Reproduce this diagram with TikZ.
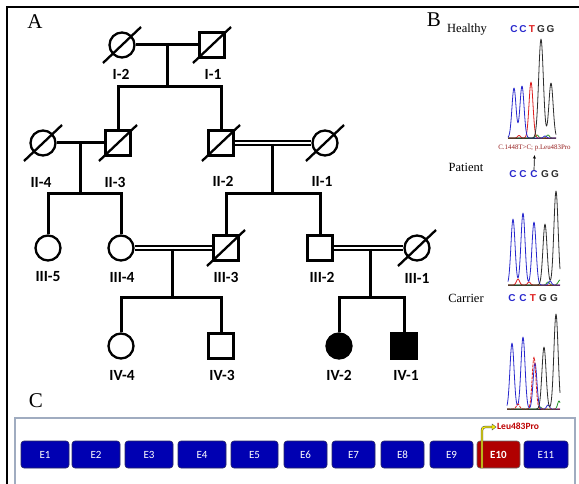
\documentclass[tikz,border=0pt]{standalone}
\usepackage{fontspec}
\setmainfont{Liberation Serif}
\newfontfamily\pedfont{Carlito}
\newfontfamily\seqfont{Liberation Sans}
\usetikzlibrary{arrows.meta}

\definecolor{exonblue}{RGB}{0,0,178}
\definecolor{exonred}{RGB}{176,0,0}
\definecolor{exonedge}{RGB}{40,40,100}
\definecolor{boxedge}{RGB}{160,172,192}
\definecolor{chC}{RGB}{40,40,205}
\definecolor{chT}{RGB}{222,30,30}
\definecolor{chG}{RGB}{45,45,45}
\definecolor{chA}{RGB}{40,150,40}
\definecolor{mutred}{RGB}{150,30,30}
\definecolor{leured}{RGB}{190,0,0}
\definecolor{ptryellow}{RGB}{250,240,0}

\tikzset{
  declare function={pk(\x,\c,\w)=exp(-min(((\x-\c)/\w)^2,20));},
  female/.style={circle, draw, line width=2.3pt, minimum size=25pt, inner sep=0pt},
  male/.style={rectangle, draw, line width=2.3pt, minimum size=25pt, inner sep=0pt},
  affected/.style={fill=black},
  ped/.style={line width=3pt},
  slash/.style={line width=2.3pt},
  consang/.style={double, double distance=2.4pt, line width=1.8pt},
  tag/.style={font=\pedfont\bfseries\fontsize{15.5}{15.5}\selectfont, inner sep=0pt},
  panel/.style={font=\fontsize{21}{21}\selectfont, inner sep=0pt},
  sample/.style={font=\fontsize{12.5}{12.5}\selectfont, inner sep=0pt},
  base/.style={font=\seqfont\bfseries\fontsize{10}{10}\selectfont, inner sep=0pt},
  trace/.style={line width=0.8pt, line join=round},
  exon/.style={draw=exonedge, fill=exonblue, rounded corners=3pt, line width=0.6pt,
    minimum height=27pt, inner sep=0pt, text height=7.2pt, text depth=0pt,
    text=white, font=\pedfont\fontsize{11}{11}\selectfont},
}

% slash through a deceased individual
\newcommand{\deceased}[1]{\draw[slash] (#1) ++(-19,18) -- ++(38,-36);}

\begin{document}
\begin{tikzpicture}[x=1pt,y=-1pt]
\clip (0,0) rectangle (579,484);
\fill[white] (0,0) rectangle (579,484);

% frame of the figure
\draw[line width=2.6pt] (7,490) -- (7,7) -- (590,7);

% ---------------- A: pedigree ----------------
\node[panel] (lA) at (35,22) {A};

% generation I
\node[female] (I2) at (122,45) {};
\node[male]   (I1) at (212,45) {};
% generation II
\node[female] (II4) at (43,143) {};
\node[male]   (II3) at (118,143) {};
\node[male]   (II2) at (221,143) {};
\node[female] (II1) at (325,143) {};
% generation III
\node[female] (III5) at (48,248) {};
\node[female] (III4) at (121,248) {};
\node[male]   (III3) at (226,248) {};
\node[male]   (III2) at (320,248) {};
\node[female] (III1) at (417,248) {};
% generation IV
\node[female] (IV4) at (121,346) {};
\node[male]   (IV3) at (221,346) {};
\node[female, affected] (IV2) at (339,346) {};
\node[male, affected]   (IV1) at (404,346) {};

\foreach \p in {I2,I1,II4,II3,II2,II1,III3,III1} {\deceased{\p}}

% labels
\node[tag] at (121,74)  {I-2};
\node[tag] at (213,74)  {I-1};
\node[tag] at (41,182)  {II-4};
\node[tag] at (115,182) {II-3};
\node[tag] at (223,181) {II-2};
\node[tag] at (322,181) {II-1};
\node[tag] at (48,277)  {III-5};
\node[tag] at (122,277) {III-4};
\node[tag] at (226,277) {III-3};
\node[tag] at (322,277) {III-2};
\node[tag] at (417,278) {III-1};
\node[tag] at (122,375) {IV-4};
\node[tag] at (222,375) {IV-3};
\node[tag] at (339,375) {IV-2};
\node[tag] at (406,375) {IV-1};

% couple I-2 / I-1
\coordinate (f1) at (167,45);
\coordinate (s1) at (167,87);
\draw[ped] (I2.east) -- (I1.west);
\draw[ped] (f1) -- (s1);
\draw[ped] (II3.north) |- (s1) -| (II2.north);

% couple II-4 / II-3
\coordinate (f2) at (80,143);
\coordinate (s2) at (80,194);
\draw[ped] (II4.east) -- (II3.west);
\draw[ped] (f2) -- (s2);
\draw[ped] (III5.north) |- (s2) -| (III4.north);

% consanguineous couple II-2 / II-1
\coordinate (f3) at (272,144);
\coordinate (s3) at (272,194);
\draw[consang] (II2.east) -- (II1.west);
\draw[ped] (f3) -- (s3);
\draw[ped] (III3.north) |- (s3) -| (III2.north);

% consanguineous couple III-4 / III-3
\coordinate (f4) at (172,249);
\coordinate (s4) at (172,297);
\draw[consang] (III4.east) -- (III3.west);
\draw[ped] (f4) -- (s4);
\draw[ped] (IV4.north) |- (s4) -| (IV3.north);

% consanguineous couple III-2 / III-1
\coordinate (f5) at (370,249);
\coordinate (s5) at (370,297);
\draw[consang] (III2.east) -- (III1.west);
\draw[ped] (f5) -- (s5);
\draw[ped] (IV2.north) |- (s5) -| (IV1.north);

% ---------------- B: sequencing ----------------
\node[panel] (lB) at (434,20) {B};
\node[sample] at (467,30)  {Healthy};
\node[sample] at (466,167) {Patient};
\node[sample] at (466,298) {Carrier};

% healthy: C C T G G
\node[base, text=chC] at (514,29.5) {C};
\node[base, text=chC] at (523,29.5) {C};
\node[base, text=chT] at (532,29.5) {T};
\node[base, text=chG] at (541,29.5) {G};
\node[base, text=chG] at (550.5,29.5) {G};
\draw[trace, chG] (508,138) -- (556,138);
\draw[trace, chA] plot[domain=508:556, samples=97] (\x, {138 - 3*pk(\x,537,2) - 3*pk(\x,548,2)});
\draw[trace, chT] plot[domain=508:556, samples=97] (\x, {138 - 56*pk(\x,531,2.8) - 2.5*pk(\x,519,2)});
\draw[trace, chC] plot[domain=508:556, samples=97] (\x, {138 - 50*pk(\x,514,2.9) - 52*pk(\x,522,2.9) - 2*pk(\x,545,2)});
\draw[trace, chG] plot[domain=508:556, samples=97] (\x, {138 - 99*pk(\x,541,3.3) - 55*pk(\x,551,3)});

% mutation marker
\node[inner sep=0pt, text=mutred, font=\fontsize{6.9}{7}\selectfont] (mut) at (534.5,148) {C.1448T>C; p.Leu483Pro};

% patient: C C C G G
\node[base, text=chC] (p1) at (513,174) {C};
\node[base, text=chC] (p2) at (523,174) {C};
\node[base, text=chC] (p3) at (534,174) {C};
\node[base, text=chG] (p4) at (545,174) {G};
\node[base, text=chG] (p5) at (555,174) {G};
\draw[line width=0.7pt, -{Stealth[length=3.5pt,width=3pt]}] (p3.north) -- ([yshift=-4pt]mut.south);
\draw[trace, chG] (508,285) -- (560,285);
\draw[trace, chA] plot[domain=508:560, samples=105] (\x, {285 - 3*pk(\x,548,2) - 5*pk(\x,560,2.5)});
\draw[trace, chT] plot[domain=508:560, samples=105] (\x, {285 - 6*pk(\x,518,2.2) - 3*pk(\x,529,2)});
\draw[trace, chC] plot[domain=508:560, samples=105] (\x, {285 - 66*pk(\x,513,2.9) - 72*pk(\x,523,2.9) - 63*pk(\x,534,2.9) - 4*pk(\x,550,2)});
\draw[trace, chG] plot[domain=508:560, samples=105] (\x, {285 - 61*pk(\x,545,2.9) - 94*pk(\x,556,3)});

% carrier: C C T G G
\node[base, text=chC] at (512,298) {C};
\node[base, text=chC] at (523,298) {C};
\node[base, text=chT] at (533,298) {T};
\node[base, text=chG] at (543,298) {G};
\node[base, text=chG] at (554,298) {G};
\draw[trace, chG] (507,409) -- (560,409);
\draw[trace, chA] plot[domain=507:560, samples=107] (\x, {409 - 2*pk(\x,540,2) - 8*pk(\x,559,2)});
\draw[trace, chC] plot[domain=507:560, samples=107] (\x, {409 - 66*pk(\x,512,2.9) - 72*pk(\x,523,2.9) - 46*pk(\x,535,2.7) - 4*pk(\x,548,2)});
\draw[trace, chT, dash pattern=on 3pt off 1pt] plot[domain=507:560, samples=107] (\x, {409 - 52*pk(\x,534,2.6) - 5*pk(\x,518,2.2)});
\draw[trace, chG] plot[domain=507:560, samples=107] (\x, {409 - 62*pk(\x,544,2.9) - 95*pk(\x,556,3)});

% ---------------- C: exon map ----------------
\node[panel] (lC) at (36,401) {C};
\draw[boxedge, line width=1.1pt, fill=white] (15,418) rectangle (575,495);

\foreach \n/\a/\b in {1/21/69, 2/72/120, 3/125/173, 4/178/226, 5/231/278,
                      6/284/327, 7/332/375, 8/381/424, 9/430/473, 11/524/568} {
  \node[exon, minimum width={\b-\a}] (E\n) at ({(\a+\b)/2},454.5) {E\n};
}
\node[exon, fill=exonred, draw=black!60, minimum width=43pt,
      font=\pedfont\bfseries\fontsize{11}{11}\selectfont] (E10) at (498.5,454.5) {E10};

% pointer to the variant
\coordinate (ptr0) at (482,468);
\coordinate (ptr1) at (492,427);
\node[inner sep=0pt, anchor=west, text=leured, font=\pedfont\bfseries\fontsize{9.5}{10}\selectfont] (leu) at (497,426) {Leu483Pro};
\draw[black!70, line width=2.4pt, rounded corners=3pt] (ptr0) |- (ptr1);
\draw[ptryellow, line width=1.3pt, rounded corners=3pt] (ptr0) |- (ptr1);
\fill[ptryellow, draw=black!70, line width=0.4pt] (ptr1) ++(0,-3) -- ++(4,3) -- ++(-4,3) -- cycle;
\end{tikzpicture}
\end{document}
